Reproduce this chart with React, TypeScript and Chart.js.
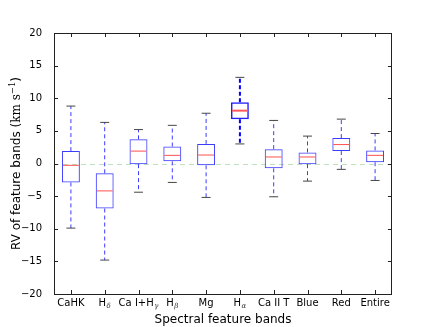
import React, { useEffect, useRef } from 'react';
import { Chart, registerables } from 'chart.js';
Chart.register(...registerables);

const labelMain = ['CaHK', 'H', 'Ca I+H', 'H', 'Mg', 'H', 'Ca II T', 'Blue', 'Red', 'Entire'];
const labelSub = ['', 'δ', 'γ', 'β', '', 'α', '', '', '', ''];
const categories = labelMain.map((m, i) => m + labelSub[i]);
const whiskerLow = [-9.9, -14.8, -4.4, -2.9, -5.2, 3.0, -5.1, -2.7, -0.9, -2.6];
const q1 = [-2.9, -6.9, -0.1, 0.33, -0.28, 6.8, -0.74, -0.1, 1.9, 0.2];
const median = [-0.28, -4.2, 1.9, 1.25, 1.3, 8.1, 1.0, 1.0, 2.9, 1.25];
const q3 = [1.9, -1.5, 3.7, 2.6, 3.0, 9.4, 2.2, 1.7, 3.9, 2.0];
const whiskerHigh = [8.8, 6.3, 5.2, 5.85, 7.7, 13.2, 6.6, 4.2, 6.8, 4.6];
const highlighted = [false, false, false, false, false, true, false, false, false, false];
const yTicks = [-20, -15, -10, -5, 0, 5, 10, 15, 20];
const yMin = -20;
const yMax = 20;

const SANS = '"DejaVu Sans", sans-serif';
const SERIF = '"DejaVu Serif", serif';

const boxPlugin = {
  id: 'boxExtras',
  beforeDatasetsDraw(chart: any) {
    const { ctx, chartArea: a, scales } = chart;
    const y0 = scales.y.getPixelForValue(0);
    ctx.save();
    ctx.strokeStyle = 'rgb(190,225,190)';
    ctx.lineWidth = 1;
    ctx.setLineDash([5, 4]);
    ctx.beginPath();
    ctx.moveTo(a.left, Math.round(y0) + 0.5);
    ctx.lineTo(a.right, Math.round(y0) + 0.5);
    ctx.stroke();
    ctx.restore();
  },
  afterDatasetsDraw(chart: any) {
    const { ctx, chartArea: a, scales } = chart;
    const xs = scales.x;
    const ys = scales.y;
    const meta = chart.getDatasetMeta(0);
    ctx.save();
    categories.forEach((_, i) => {
      const x = xs.getPixelForValue(i);
      const bw = meta.data[i].width;
      const hl = highlighted[i];
      const yq1 = ys.getPixelForValue(q1[i]);
      const yq3 = ys.getPixelForValue(q3[i]);
      const ylo = ys.getPixelForValue(whiskerLow[i]);
      const yhi = ys.getPixelForValue(whiskerHigh[i]);
      const ym = ys.getPixelForValue(median[i]);
      // whiskers
      ctx.strokeStyle = hl ? '#0000ff' : 'rgb(60,60,255)';
      ctx.lineWidth = hl ? 2 : 1;
      ctx.setLineDash(hl ? [4, 2.5] : [4, 3]);
      ctx.beginPath();
      ctx.moveTo(x, yq3);
      ctx.lineTo(x, yhi);
      ctx.moveTo(x, yq1);
      ctx.lineTo(x, ylo);
      ctx.stroke();
      ctx.setLineDash([]);
      // caps
      ctx.strokeStyle = 'rgb(70,70,70)';
      ctx.lineWidth = 1;
      ctx.beginPath();
      ctx.moveTo(x - bw / 4, yhi);
      ctx.lineTo(x + bw / 4, yhi);
      ctx.moveTo(x - bw / 4, ylo);
      ctx.lineTo(x + bw / 4, ylo);
      ctx.stroke();
      // median
      ctx.strokeStyle = hl ? 'rgb(255,90,90)' : 'rgb(255,80,80)';
      ctx.lineWidth = hl ? 2 : 1;
      ctx.beginPath();
      ctx.moveTo(x - bw / 2 + 1, ym);
      ctx.lineTo(x + bw / 2 - 1, ym);
      ctx.stroke();
    });
    // frame
    ctx.strokeStyle = '#222';
    ctx.lineWidth = 1;
    ctx.strokeRect(Math.round(a.left) + 0.5, Math.round(a.top) + 0.5, Math.round(a.right - a.left) - 1, Math.round(a.bottom - a.top));
    // ticks (inward)
    const tl = 4;
    ctx.beginPath();
    categories.forEach((_, i) => {
      const x = Math.round(xs.getPixelForValue(i)) + 0.5;
      ctx.moveTo(x, a.bottom);
      ctx.lineTo(x, a.bottom - tl);
      ctx.moveTo(x, a.top);
      ctx.lineTo(x, a.top + tl);
    });
    yTicks.forEach((v) => {
      const y = Math.round(ys.getPixelForValue(v)) + 0.5;
      ctx.moveTo(a.left, y);
      ctx.lineTo(a.left + tl, y);
      ctx.moveTo(a.right, y);
      ctx.lineTo(a.right - tl, y);
    });
    ctx.stroke();
    // x tick labels with subscripts
    ctx.fillStyle = '#000';
    ctx.textBaseline = 'alphabetic';
    const base = a.bottom + 12;
    categories.forEach((_, i) => {
      const x = xs.getPixelForValue(i);
      ctx.font = `10px ${SANS}`;
      const wm = ctx.measureText(labelMain[i]).width;
      ctx.font = `italic 7px ${SERIF}`;
      const ws = labelSub[i] ? ctx.measureText(labelSub[i]).width + 0.5 : 0;
      const start = x - (wm + ws) / 2;
      ctx.font = `10px ${SANS}`;
      ctx.textAlign = 'left';
      ctx.fillText(labelMain[i], start, base);
      if (labelSub[i]) {
        ctx.font = `italic 7px ${SERIF}`;
        ctx.fillStyle = '#333';
        ctx.fillText(labelSub[i], start + wm + 0.5, base + 2);
        ctx.fillStyle = '#000';
      }
    });
    // x title
    ctx.font = `12px ${SANS}`;
    ctx.textAlign = 'center';
    ctx.fillText('Spectral feature bands', (a.left + a.right) / 2, 323);
    // y title
    ctx.save();
    ctx.translate(20, (a.top + a.bottom) / 2);
    ctx.rotate(-Math.PI / 2);
    ctx.textAlign = 'left';
    const parts = [
      { t: 'RV of feature bands (', f: `12px ${SANS}`, dy: 0 },
      { t: 'km', f: `12px ${SERIF}`, dy: 0 },
      { t: ' s', f: `12px ${SERIF}`, dy: 0 },
      { t: '−1', f: `8.5px ${SERIF}`, dy: -5 },
      { t: ')', f: `12px ${SANS}`, dy: 0 },
    ];
    let total = 0;
    const widths = parts.map((p) => {
      ctx.font = p.f;
      const w = ctx.measureText(p.t).width;
      total += w;
      return w;
    });
    let cx = -total / 2;
    parts.forEach((p, k) => {
      ctx.font = p.f;
      ctx.fillText(p.t, cx, p.dy);
      cx += widths[k];
    });
    ctx.restore();
    ctx.restore();
  },
};

export default function App() {
  const ref = useRef<HTMLCanvasElement | null>(null);
  useEffect(() => {
    if (!ref.current) return;
    Chart.defaults.font.family = SANS;
    const chart = new Chart(ref.current, {
      type: 'bar',
      data: {
        labels: categories,
        datasets: [
          {
            data: categories.map((_, i) => [q1[i], q3[i]]),
            backgroundColor: 'rgba(0,0,0,0)',
            borderColor: highlighted.map((h) => (h ? '#2020ff' : 'rgb(60,60,255)')),
            borderWidth: highlighted.map((h) => (h ? 1.5 : 1)),
            borderSkipped: false,
            barPercentage: 0.53,
            categoryPercentage: 1,
          } as any,
        ],
      },
      options: {
        animation: false,
        responsive: false,
        layout: { padding: { top: 33, right: 44, left: 0, bottom: 0 } },
        plugins: { legend: { display: false }, tooltip: { enabled: false } },
        scales: {
          x: {
            type: 'category',
            offset: true,
            ticks: { display: false },
            grid: { display: false },
            border: { display: false },
            afterFit: (s: any) => {
              s.height = 33;
            },
          },
          y: {
            min: yMin,
            max: yMax,
            ticks: {
              stepSize: 5,
              color: '#000',
              font: { size: 10, family: SANS },
              padding: 4,
              callback: (v: any) => (Number(v) < 0 ? '−' + Math.abs(Number(v)) : String(v)),
            },
            grid: { display: false },
            border: { display: false },
            afterFit: (s: any) => {
              s.width = 54;
            },
          },
        },
      },
      plugins: [boxPlugin],
    });
    return () => chart.destroy();
  }, []);
  return (
    <div style={{ position: 'fixed', left: 0, top: 0, width: 436, height: 327, background: '#fff' }}>
      <canvas ref={ref} width={436} height={327} />
    </div>
  );
}
